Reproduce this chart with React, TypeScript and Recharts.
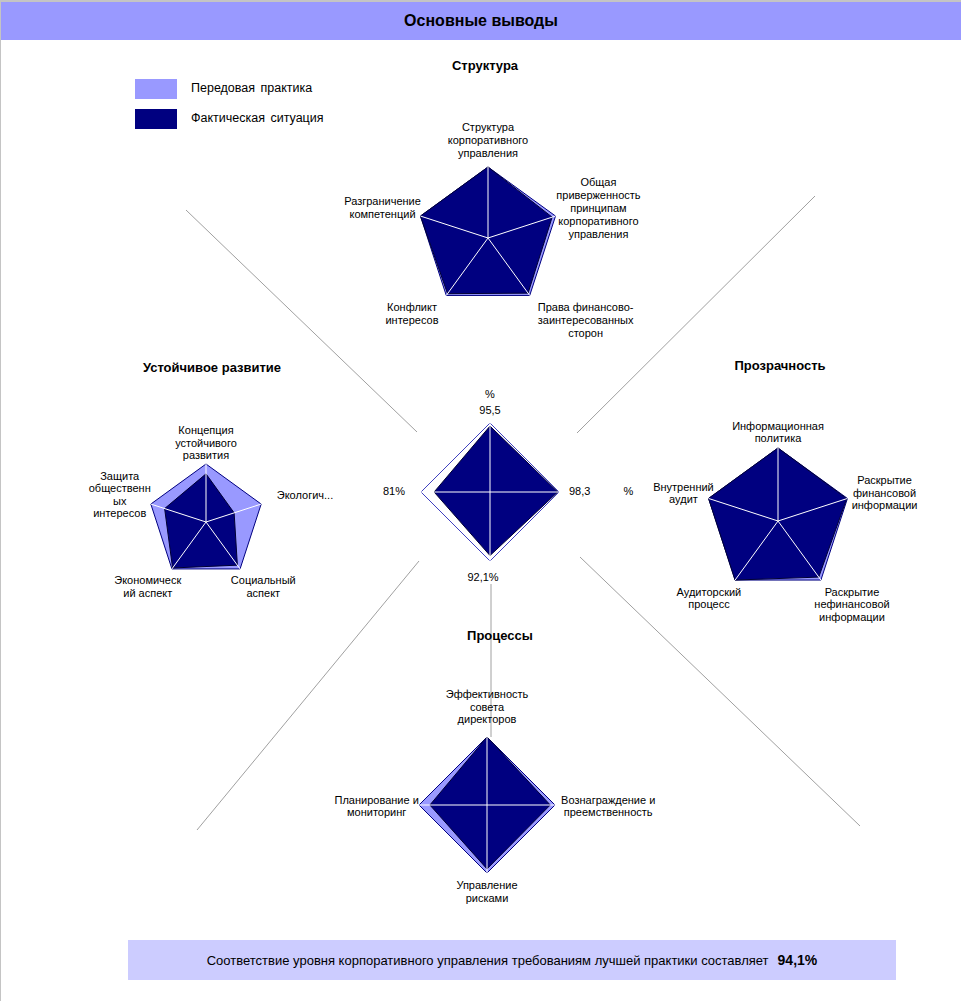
import React from "react";
import { RadarChart, Radar, PolarAngleAxis, PolarRadiusAxis } from "recharts";

const FONT = '"Liberation Sans", Arial, sans-serif';
const NAVY = "#000080";
const LIGHT = "#9999ff";

// Структура
const structAxes = [
  "Структура\nкорпоративного\nуправления",
  "Общая\nприверженность\nпринципам\nкорпоративного\nуправления",
  "Права финансово-\nзаинтересованных\nсторон",
  "Конфликт\nинтересов",
  "Разграничение\nкомпетенций",
];
const structBest = [100, 100, 100, 100, 100];
const structActual = [100, 95, 96, 97, 100];

// Устойчивое развитие
const sustAxes = [
  "Концепция\nустойчивого\nразвития",
  "Экологич...",
  "Социальный\nаспект",
  "Экономическ\nий аспект",
  "Защита\nобщественн\nых\nинтересов",
];
const sustBest = [100, 100, 100, 100, 100];
const sustActual = [83, 51, 92, 98, 75];

// Прозрачность
const transAxes = [
  "Информационная\nполитика",
  "Раскрытие\nфинансовой\nинформации",
  "Раскрытие\nнефинансовой\nинформации",
  "Аудиторский\nпроцесс",
  "Внутренний\nаудит",
];
const transBest = [100, 100, 100, 100, 100];
const transActual = [100, 99, 95, 100, 100];

// Процессы
const procAxes = [
  "Эффективность\nсовета\nдиректоров",
  "Вознаграждение и\nпреемственность",
  "Управление\nрисками",
  "Планирование и\nмониторинг",
];
const procBest = [100, 100, 100, 100];
const procActual = [100, 93, 94, 84];

// итог по разделам
const summaryLabels = ["%\n95,5", "98,3\u2003\u2003\u2003%", "92,1%", "81%"];
const summaryBest = [100, 100, 100, 100];
const summaryActual = [95.5, 98.3, 92.1, 81];

type TickOpts = {
  fs: number;
  lh: number;
  cw: number;
  side: [number, number];
  bottom: [number, number];
  topShift: number;
  midDrop: number;
  bottomDrop: number;
  bottomX?: number;
};

function makeTick(cx: number, cy: number, o: TickOpts) {
  return (props: any) => {
    const { x, y, payload } = props;
    const lines = String(payload.value).split("\n");
    const dx = x - cx;
    const dy = y - cy;
    const r = Math.hypot(dx, dy) || 1;
    const isTop = dy < -0.8 * r;
    const isBottom = dy > 0.5 * r;
    const s = Math.abs(dx) < 3 ? 0 : Math.sign(dx);
    const shift = isBottom ? o.bottom[s > 0 ? 1 : 0] : o.side[s > 0 ? 1 : 0];
    let anchor: "middle" | "start" | "end" = "middle";
    let tx = x;
    if (s !== 0) {
      if (lines.length === 1 && !isBottom) {
        anchor = s > 0 ? "start" : "end";
        tx = x + s * shift;
      } else {
        const w = Math.max(...lines.map((l) => l.length)) * o.cw;
        tx = x + s * (w / 2 + shift);
      }
    } else if (isBottom && o.bottomX) {
      tx = x + o.bottomX;
    }
    let y0: number;
    if (isTop) y0 = y - (lines.length - 1) * o.lh + o.topShift;
    else if (isBottom) y0 = y + o.bottomDrop;
    else y0 = y - ((lines.length - 1) * o.lh) / 2 + o.midDrop;
    return (
      <text x={tx} y={y0} textAnchor={anchor} fontSize={o.fs} fontFamily={FONT} fill="#000">
        {lines.map((l, i) => (
          <tspan key={i} x={tx} dy={i ? o.lh : 0}>
            {l}
          </tspan>
        ))}
      </text>
    );
  };
}

// заливка факта + белые лучи поверх неё
const spokeShape = (outerR: number) => (props: any) => {
  const pts: any[] = props.points || [];
  if (!pts.length) return null;
  const d = pts.map((p, i) => `${i ? "L" : "M"}${p.x},${p.y}`).join("") + "Z";
  const RAD = Math.PI / 180;
  return (
    <g>
      <path d={d} fill={NAVY} stroke="#000033" strokeWidth={1} />
      {pts.map((p, i) => (
        <line
          key={i}
          x1={p.cx}
          y1={p.cy}
          x2={p.cx + outerR * Math.cos(-p.angle * RAD)}
          y2={p.cy + outerR * Math.sin(-p.angle * RAD)}
          stroke="#ffffff"
          strokeWidth={1}
        />
      ))}
    </g>
  );
};

interface PanelProps {
  left: number;
  top: number;
  width: number;
  height: number;
  cx: number;
  cy: number;
  r: number;
  axes: string[];
  best: number[];
  actual: number[];
  opts: TickOpts;
  outlineOnly?: boolean;
}

function RadarPanel(p: PanelProps) {
  const data = p.axes.map((axis, i) => ({ axis, best: p.best[i], actual: p.actual[i] }));
  return (
    <div style={{ position: "absolute", left: p.left, top: p.top }}>
      <RadarChart
        width={p.width}
        height={p.height}
        cx={p.cx}
        cy={p.cy}
        outerRadius={p.r}
        data={data}
        margin={{ top: 0, right: 0, bottom: 0, left: 0 }}
      >
        <PolarRadiusAxis domain={[0, 100]} tick={false} axisLine={false} />
        <PolarAngleAxis dataKey="axis" tick={makeTick(p.cx, p.cy, p.opts)} tickLine={false} axisLine={false} />
        <Radar
          dataKey="best"
          fill={p.outlineOnly ? "none" : LIGHT}
          fillOpacity={1}
          stroke={p.outlineOnly ? "#4040c0" : NAVY}
          strokeWidth={1}
          isAnimationActive={false}
        />
        <Radar dataKey="actual" shape={spokeShape(p.r)} isAnimationActive={false} />
      </RadarChart>
    </div>
  );
}

const title: React.CSSProperties = {
  position: "absolute",
  fontFamily: FONT,
  fontWeight: "bold",
  fontSize: 13,
  transform: "translateX(-50%)",
  whiteSpace: "nowrap",
};

export default function App() {
  return (
    <div
      style={{
        position: "absolute",
        left: 0,
        top: 0,
        width: 961,
        height: 1001,
        background: "#fff",
        overflow: "hidden",
        fontFamily: FONT,
      }}
    >
      <div style={{ position: "absolute", left: 0, top: 0, width: 961, height: 2, background: "#c4c4c4" }} />
      <div style={{ position: "absolute", left: 0, top: 0, width: 1, height: 1001, background: "#c4c4c4" }} />
      <div
        style={{
          position: "absolute",
          left: 1,
          top: 2,
          width: 960,
          height: 38,
          background: LIGHT,
          textAlign: "center",
          lineHeight: "38px",
          fontWeight: "bold",
          fontSize: 16,
          color: "#000",
        }}
      >
        Основные выводы
      </div>

      {/* легенда */}
      <div style={{ position: "absolute", left: 135, top: 79, width: 42, height: 20, background: LIGHT }} />
      <div style={{ position: "absolute", left: 135, top: 109, width: 42, height: 20, background: NAVY }} />
      <div style={{ position: "absolute", left: 191, top: 81, fontSize: 12.5, wordSpacing: 2 }}>Передовая практика</div>
      <div style={{ position: "absolute", left: 191, top: 111, fontSize: 12.5, wordSpacing: 2 }}>Фактическая ситуация</div>

      {/* соединительные линии */}
      <svg width={961} height={1001} style={{ position: "absolute", left: 0, top: 0 }}>
        <g stroke="#a0a0a0" strokeWidth={1}>
          <line x1={186} y1={210} x2={417} y2={432} />
          <line x1={815} y1={196} x2={577} y2={433} />
          <line x1={419} y1={561} x2={197} y2={830} />
          <line x1={580} y1={557} x2={860} y2={826} />
          <line x1={491} y1={584} x2={491} y2={737} />
        </g>
      </svg>

      <div style={{ ...title, left: 485, top: 58 }}>Структура</div>
      <div style={{ ...title, left: 212, top: 360 }}>Устойчивое развитие</div>
      <div style={{ ...title, left: 780, top: 358 }}>Прозрачность</div>
      <div style={{ ...title, left: 500, top: 628 }}>Процессы</div>

      <RadarPanel
        left={330}
        top={110}
        width={320}
        height={240}
        cx={158}
        cy={128}
        r={71}
        axes={structAxes}
        best={structBest}
        actual={structActual}
        opts={{ fs: 11, lh: 13, cw: 5.9, side: [-8, -6], bottom: [3, 4], topShift: -2, midDrop: -2, bottomDrop: 9 }}
      />
      <RadarPanel
        left={50}
        top={400}
        width={320}
        height={220}
        cx={156}
        cy={122}
        r={58}
        axes={sustAxes}
        best={sustBest}
        actual={sustActual}
        opts={{ fs: 11, lh: 12.5, cw: 5.9, side: [-6, 8], bottom: [-13, -11], topShift: 3, midDrop: -3, bottomDrop: 9 }}
      />
      <RadarPanel
        left={620}
        top={400}
        width={340}
        height={240}
        cx={158}
        cy={121}
        r={73}
        axes={transAxes}
        best={transBest}
        actual={transActual}
        opts={{ fs: 11, lh: 12.5, cw: 5.9, side: [-12, 0], bottom: [-11, -9], topShift: 2, midDrop: 1, bottomDrop: 9 }}
      />
      <RadarPanel
        left={320}
        top={670}
        width={350}
        height={250}
        cx={167}
        cy={135}
        r={68}
        axes={procAxes}
        best={procBest}
        actual={procActual}
        opts={{ fs: 11, lh: 12.5, cw: 5.9, side: [-7, -2], bottom: [0, 0], topShift: -6, midDrop: 5, bottomDrop: 8 }}
      />
      <RadarPanel
        left={360}
        top={380}
        width={300}
        height={220}
        cx={130}
        cy={112}
        r={69}
        axes={summaryLabels}
        best={summaryBest}
        actual={summaryActual}
        outlineOnly
        opts={{ fs: 11, lh: 16, cw: 6, side: [8, 2], bottom: [0, 0], topShift: -1, midDrop: 3, bottomDrop: 12, bottomX: -7 }}
      />

      {/* итог */}
      <div
        style={{
          position: "absolute",
          left: 128,
          top: 940,
          width: 768,
          height: 40,
          background: "#ccccff",
          display: "flex",
          alignItems: "center",
          justifyContent: "center",
          fontSize: 13,
        }}
      >
        <span>Соответствие уровня корпоративного управления требованиям лучшей практики составляет</span>
        <span style={{ fontWeight: "bold", fontSize: 14, marginLeft: 9 }}>94,1%</span>
      </div>
    </div>
  );
}
